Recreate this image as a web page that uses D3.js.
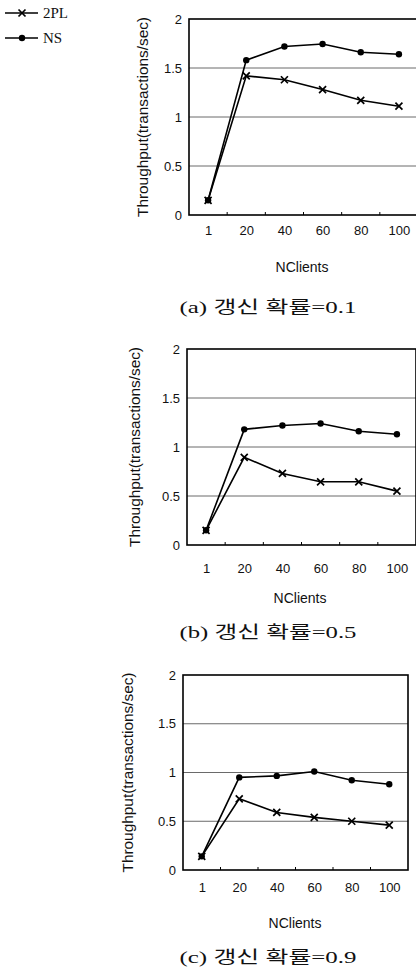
<!DOCTYPE html>
<html>
<head>
<meta charset="utf-8">
<script src="https://cdn.jsdelivr.net/npm/d3@7"></script>
<style>
  body { margin: 0; background: #fff; }
  svg { display: block; }
</style>
</head>
<body>
<svg id="chart" width="416" height="968"></svg>
<script>
// data
const clients = ["1", "20", "40", "60", "80", "100"]
const yTicks = [0, 0.5, 1, 1.5, 2]
const yTickLabels = ["0", "0.5", "1", "1.5", "2"]
const seriesNames = ["2PL", "NS"]

const ns01 = [0.15, 1.58, 1.72, 1.745, 1.66, 1.64]
const tpl01 = [0.15, 1.42, 1.38, 1.28, 1.17, 1.11]
const ns05 = [0.15, 1.18, 1.22, 1.24, 1.16, 1.13]
const tpl05 = [0.15, 0.895, 0.73, 0.645, 0.645, 0.55]
const ns09 = [0.14, 0.95, 0.965, 1.01, 0.92, 0.88]
const tpl09 = [0.14, 0.73, 0.59, 0.54, 0.50, 0.46]

const captions = ["(a) 갱신 확률=0.1", "(b) 갱신 확률=0.5", "(c) 갱신 확률=0.9"]

let ThroughputChart = function (svg, opts) {
    this.svg = svg
    this.opts = opts
    this.g = svg.append("g")

    this.x = d3.scalePoint()
        .domain(clients)
        .range([opts.left, opts.right])
        .padding(0.5)
    this.y = d3.scaleLinear()
        .domain([0, 2])
        .range([opts.bottom, opts.top])

    this.drawGrid()
    this.drawAxes()
    this.drawSeries(opts.tpl, "cross")
    this.drawSeries(opts.ns, "dot")
    this.drawLabels()
}

ThroughputChart.prototype.drawGrid = function () {
    let _this = this
    this.g.append("g")
        .selectAll("line")
        .data(yTicks.filter(d => d > 0 && d < 2))
        .join("line")
        .attr("x1", this.opts.left)
        .attr("x2", this.opts.right)
        .attr("y1", d => _this.y(d))
        .attr("y2", d => _this.y(d))
        .attr("stroke", "#444")
        .attr("stroke-width", 0.8)
}

ThroughputChart.prototype.drawAxes = function () {
    const o = this.opts

    // y axis labels, no tick lines
    const yAxis = d3.axisLeft(this.y)
        .tickValues(yTicks)
        .tickSize(0)
        .tickPadding(7)
        .tickFormat((d, i) => yTickLabels[i])
    const gy = this.g.append("g")
        .attr("transform", `translate(${o.left},0)`)
        .call(yAxis)
    gy.select(".domain").remove()
    gy.selectAll("text")
        .attr("font-family", "Liberation Sans, Arial, sans-serif")
        .attr("font-size", 13)
        .attr("fill", "#111")

    // x axis labels sit below the box
    const xAxis = d3.axisBottom(this.x).tickSize(0).tickPadding(0)
    const gx = this.g.append("g")
        .attr("transform", `translate(0,${o.tickY})`)
        .call(xAxis)
    gx.select(".domain").remove()
    gx.selectAll("text")
        .attr("dy", "0.35em")
        .attr("font-family", "Liberation Sans, Arial, sans-serif")
        .attr("font-size", 13)
        .attr("fill", "#111")

    // small ticks between categories on the bottom edge
    const step = this.x.step()
    this.g.append("g")
        .selectAll("line")
        .data(clients.slice(1))
        .join("line")
        .attr("x1", d => this.x(d) - step / 2)
        .attr("x2", d => this.x(d) - step / 2)
        .attr("y1", o.bottom)
        .attr("y2", o.bottom - 3)
        .attr("stroke", "#000")
        .attr("stroke-width", 1)

    this.g.append("rect")
        .attr("x", o.left)
        .attr("y", o.top)
        .attr("width", o.right - o.left)
        .attr("height", o.bottom - o.top)
        .attr("fill", "none")
        .attr("stroke", "#000")
        .attr("stroke-width", 1.6)
}

ThroughputChart.prototype.drawSeries = function (values, marker) {
    let _this = this
    const line = d3.line()
        .x((d, i) => _this.x(clients[i]))
        .y(d => _this.y(d))

    this.g.append("path")
        .datum(values)
        .attr("d", line)
        .attr("fill", "none")
        .attr("stroke", "#000")
        .attr("stroke-width", 1.6)

    const pts = this.g.append("g")
        .selectAll("g")
        .data(values)
        .join("g")
        .attr("transform", (d, i) => `translate(${_this.x(clients[i])},${_this.y(d)})`)
    addMarker(pts, marker)
}

ThroughputChart.prototype.drawLabels = function () {
    const o = this.opts
    const midY = (o.top + o.bottom) / 2

    this.g.append("text")
        .attr("transform", `translate(${o.yTitleX},${midY}) rotate(-90)`)
        .attr("text-anchor", "middle")
        .attr("dy", "0.35em")
        .attr("font-family", "Liberation Sans, Arial, sans-serif")
        .attr("font-size", 14)
        .attr("textLength", 200)
        .attr("lengthAdjust", "spacingAndGlyphs")
        .attr("fill", "#111")
        .text("Throughput(transactions/sec)")

    this.g.append("text")
        .attr("x", o.xTitleX)
        .attr("y", o.xTitleY)
        .attr("text-anchor", "middle")
        .attr("dy", "0.35em")
        .attr("font-family", "Liberation Sans, Arial, sans-serif")
        .attr("font-size", 14)
        .attr("fill", "#111")
        .text("NClients")

    this.g.append("text")
        .attr("x", 268)
        .attr("y", o.captionY)
        .attr("text-anchor", "middle")
        .attr("dy", "0.35em")
        .attr("font-family", "Liberation Serif, Noto Sans CJK KR, serif")
        .attr("font-size", 17)
        .attr("textLength", 177)
        .attr("lengthAdjust", "spacingAndGlyphs")
        .attr("fill", "#111")
        .text(o.caption)
}

function addMarker(sel, marker) {
    if (marker === "dot") {
        sel.append("circle")
            .attr("r", 3.2)
            .attr("fill", "#000")
    } else {
        const s = 3.5
        sel.append("path")
            .attr("d", `M${-s},${-s}L${s},${s}M${-s},${s}L${s},${-s}`)
            .attr("stroke", "#000")
            .attr("stroke-width", 1.7)
    }
}

function drawLegend(svg) {
    const lg = svg.append("g")
    const rows = lg.selectAll("g")
        .data(seriesNames)
        .join("g")
        .attr("transform", (d, i) => `translate(0,${13 + i * 25})`)

    rows.append("line")
        .attr("x1", 5)
        .attr("x2", 38)
        .attr("stroke", "#000")
        .attr("stroke-width", 1.4)

    rows.each(function (d) {
        const m = d3.select(this).append("g").attr("transform", "translate(22,0)")
        addMarker(m, d === "NS" ? "dot" : "cross")
    })

    rows.append("text")
        .attr("x", 43)
        .attr("dy", "0.35em")
        .attr("font-family", "Liberation Serif, serif")
        .attr("font-size", 15)
        .attr("fill", "#111")
        .text(d => d)
}

const svg = d3.select("#chart")

drawLegend(svg)

new ThroughputChart(svg, {
    left: 189, right: 418, top: 19, bottom: 215,
    tickY: 230, xTitleX: 302, xTitleY: 267, yTitleX: 143,
    captionY: 307, caption: captions[0],
    ns: ns01, tpl: tpl01
})

new ThroughputChart(svg, {
    left: 187, right: 416, top: 349, bottom: 545,
    tickY: 568, xTitleX: 300, xTitleY: 598, yTitleX: 135,
    captionY: 632, caption: captions[1],
    ns: ns05, tpl: tpl05
})

new ThroughputChart(svg, {
    left: 183, right: 408, top: 675, bottom: 870,
    tickY: 887, xTitleX: 295, xTitleY: 923, yTitleX: 128,
    captionY: 957, caption: captions[2],
    ns: ns09, tpl: tpl09
})
</script>
</body>
</html>
